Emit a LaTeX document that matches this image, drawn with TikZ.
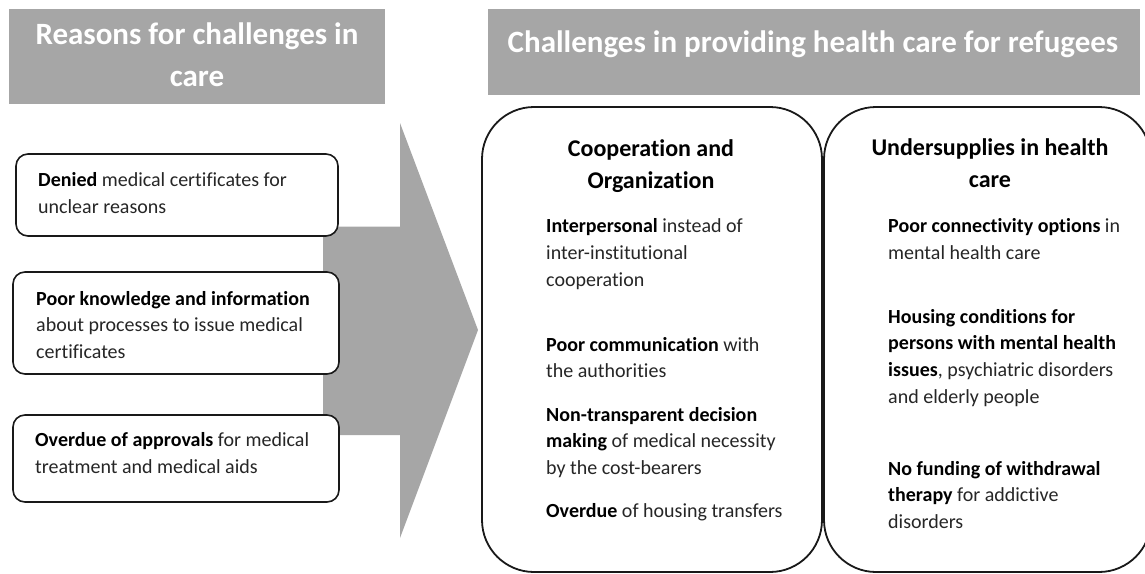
\documentclass[tikz,border=0pt]{standalone}
\usepackage{fontspec}
\setmainfont{Carlito}[Ligatures={NoCommon}]
\definecolor{hdrgray}{HTML}{A6A6A6}
\definecolor{bodytxt}{HTML}{262626}
\newcommand\keyterm[1]{\textcolor{black}{\textbf{#1}}}
\begin{document}
% multi-line nodes are placed by the baseline of their last line
\begin{tikzpicture}[x=1pt,y=-1pt,
  header/.style={fill=hdrgray,draw=none},
  headtxt/.style={text=white,font=\fontsize{31}{42}\selectfont\bfseries,align=center,anchor=base,inner sep=0pt},
  reasonbox/.style={draw=black!90,line width=1.6pt,fill=white,rounded corners=12pt},
  bigbox/.style={draw=black!90,line width=1.8pt,fill=white,rounded corners=52pt},
  bodytext/.style={text=bodytxt,font=\fontsize{20}{26.7}\selectfont,align=left,anchor=base west,inner sep=0pt},
  titletext/.style={text=black,font=\fontsize{24}{32}\selectfont\bfseries,align=center,anchor=base,inner sep=0pt}]
\useasboundingbox (0,0) rectangle (1145,573);

% header bars
\fill[header] (9,9) rectangle (385,104);
\fill[header] (488,9) rectangle (1140,95);
\node[headtxt] (lhead) at (197,86.3) {Reasons for challenges in\\care};
\node[headtxt] (rhead) at (813,52) {Challenges in providing health care for refugees};

% block arrow from reasons to challenges
\coordinate (abl) at (323,226.7);
\coordinate (atip) at (478,330);
\fill[hdrgray] (abl) -- (400,226.7) -- (400,123) -- (atip) -- (400,538) -- (400,435) -- (323,435) -- cycle;

% reasons
\draw[reasonbox] (16,154) rectangle (338,236);
\node[bodytext] (r1) at (38,213) {\keyterm{Denied} medical certificates for\\unclear reasons};
\draw[reasonbox] (13,272) rectangle (339,374);
\node[bodytext] (r2) at (36,358.4) {\keyterm{Poor knowledge and information}\\about processes to issue medical\\certificates};
\draw[reasonbox] (13,415) rectangle (339,502);
\node[bodytext] (r3) at (35,473.4) {\keyterm{Overdue of approvals} for medical\\treatment and medical aids};

% challenge columns
\draw[bigbox] (482,107) rectangle (822,572);
\draw[bigbox] (824,107) rectangle (1151,572);

\node[titletext] (t1) at (651,188) {Cooperation and\\Organization};
\node[bodytext] (c1) at (546,286.1) {\keyterm{Interpersonal} instead of\\inter-institutional\\cooperation};
\node[bodytext] (c2) at (546,377.7) {\keyterm{Poor communication} with\\the authorities};
\node[bodytext] (c3) at (546,474.4) {\keyterm{Non-transparent decision}\\\keyterm{making} of medical necessity\\by the cost-bearers};
\node[bodytext] (c4) at (546,517.7) {\keyterm{Overdue} of housing transfers};

\node[titletext] (t2) at (990,187) {Undersupplies in health\\care};
\node[bodytext] (u1) at (888,259.4) {\keyterm{Poor connectivity options} in\\mental health care};
\node[bodytext] (u2) at (888,403.1) {\keyterm{Housing conditions for}\\\keyterm{persons with mental health}\\\keyterm{issues}, psychiatric disorders\\and elderly people};
\node[bodytext] (u3) at (888,528.4) {\keyterm{No funding of withdrawal}\\\keyterm{therapy} for addictive\\disorders};
\end{tikzpicture}
\end{document}
